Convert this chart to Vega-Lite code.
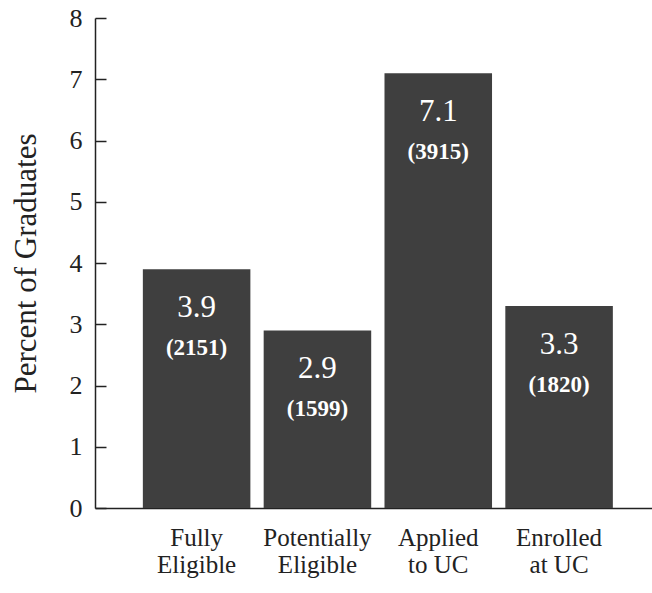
{
  "$schema": "https://vega.github.io/schema/vega-lite/v6.json",
  "autosize": "none",
  "width": 557,
  "height": 490,
  "padding": {"left": 95, "top": 18, "right": 0, "bottom": 85},
  "background": "white",
  "config": {
    "view": {"stroke": null},
    "font": "Liberation Serif",
    "axis": {"domainColor": "#222", "tickColor": "#222", "labelColor": "#222", "titleColor": "#222", "labelFont": "Liberation Serif", "titleFont": "Liberation Serif", "domainWidth": 1.5, "tickWidth": 1.5, "grid": false}
  },
  "data": {
    "values": [
      {"category": "Fully|Eligible", "pct": 3.9, "count": "(2151)"},
      {"category": "Potentially|Eligible", "pct": 2.9, "count": "(1599)"},
      {"category": "Applied|to UC", "pct": 7.1, "count": "(3915)"},
      {"category": "Enrolled|at UC", "pct": 3.3, "count": "(1820)"}
    ]
  },
  "encoding": {
    "x": {
      "field": "category", "type": "nominal", "sort": null,
      "scale": {"paddingInner": 0.11, "paddingOuter": 0.36, "align": 0.55},
      "axis": {"title": null, "labelAngle": 0, "labelExpr": "split(datum.label, '|')", "labelFontSize": 25, "labelLineHeight": 27, "labelPadding": 17, "ticks": false, "labelBaseline": "top", "labelOverlap": false}
    },
    "y": {
      "field": "pct", "type": "quantitative",
      "scale": {"domain": [0, 8]},
      "axis": {"title": "Percent of Graduates", "titleFontSize": 31, "titleFontWeight": "normal", "titlePadding": 27, "labelFontSize": 26, "values": [0, 1, 2, 3, 4, 5, 6, 7, 8], "labelOverlap": false, "tickSize": -11, "labelPadding": 24}
    }
  },
  "layer": [
    {"mark": {"type": "bar", "color": "#3f3f3f"}},
    {"mark": {"type": "text", "color": "white", "fontSize": 31, "dy": 39, "font": "Liberation Serif"}, "encoding": {"text": {"field": "pct", "type": "quantitative", "format": ".1f"}}},
    {"mark": {"type": "text", "color": "white", "fontSize": 23, "fontWeight": "bold", "dy": 79, "font": "Liberation Serif"}, "encoding": {"text": {"field": "count"}}}
  ]
}
